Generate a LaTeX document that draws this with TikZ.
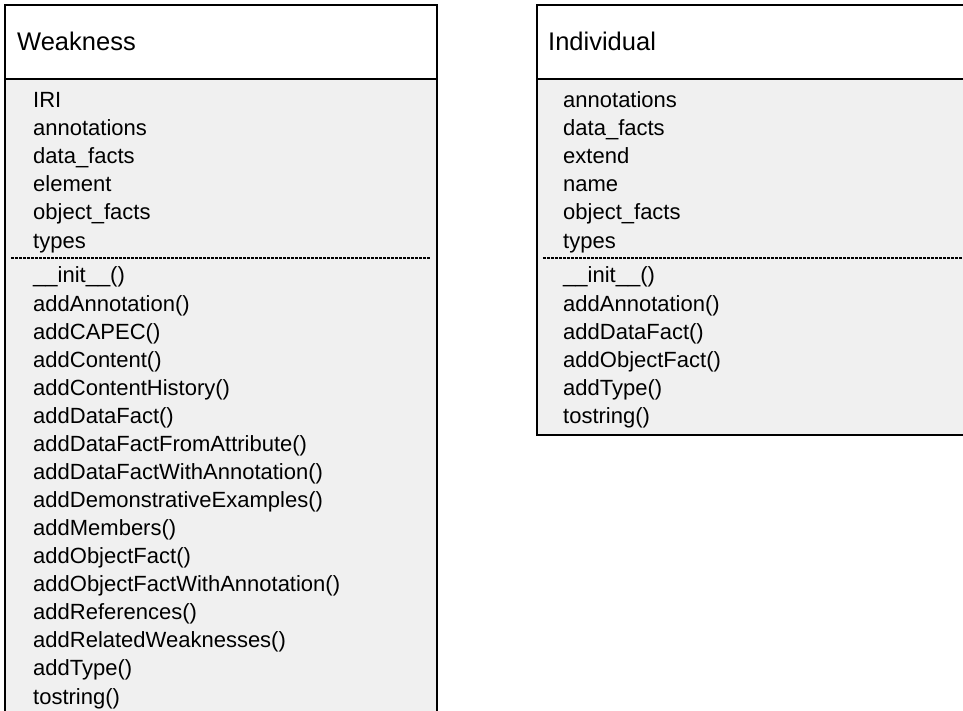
\documentclass[tikz,border=0pt]{standalone}
\usepackage{fontspec}
\setmainfont{Liberation Sans}

\definecolor{bodygray}{HTML}{F0F0F0}

\tikzset{
	classname/.style={anchor=base west, inner sep=0pt, font=\fontsize{25.5}{30}\selectfont},
	member/.style={anchor=base west, inner sep=0pt, font=\fontsize{22}{28}\selectfont},
	frame/.style={draw=black, line width=1.6pt},
	divider/.style={line width=1.3pt, dash pattern=on 3pt off 1pt}
}

\begin{document}
\begin{tikzpicture}[x=1pt, y=-1pt]
		\useasboundingbox (0,0) rectangle (963,711);
		\clip (0,0) rectangle (963,711);

		% Weakness
		\fill[bodygray] (5,79) rectangle (437,730);
		\fill[white] (5,5) rectangle (437,79);
		\draw[frame] (5,730) -- (5,5) -- (437,5) -- (437,730);
		\draw[frame] (5,79) -- (437,79);
		\draw[divider] (11,258) -- (431,258);
		\node[classname] (weak) at (17,51) {Weakness};
		\foreach \txt [count=\i] in {IRI, annotations, data\_facts, element, object\_facts, types}
			\node[member] (wa\i) at (33,107.5+28.1*\i-28.1) {\txt};
		\foreach \txt [count=\i] in {\_\_init\_\_(), addAnnotation(), addCAPEC(), addContent(),
			addContentHistory(), addDataFact(), addDataFactFromAttribute(),
			addDataFactWithAnnotation(), addDemonstrativeExamples(), addMembers(),
			addObjectFact(), addObjectFactWithAnnotation(), addReferences(),
			addRelatedWeaknesses(), addType(), tostring()}
			\node[member] (wm\i) at (33,283+28.07*\i-28.07) {\txt};

		% Individual
		\fill[bodygray] (537,79) rectangle (975,435);
		\fill[white] (537,5) rectangle (975,79);
		\draw[frame] (975,435) -- (537,435) -- (537,5) -- (975,5);
		\draw[frame] (537,79) -- (975,79);
		\draw[divider] (543,258) -- (975,258);
		\node[classname] (indiv) at (548,51) {Individual};
		\foreach \txt [count=\i] in {annotations, data\_facts, extend, name, object\_facts, types}
			\node[member] (ia\i) at (563,107.5+28.1*\i-28.1) {\txt};
		\foreach \txt [count=\i] in {\_\_init\_\_(), addAnnotation(), addDataFact(),
			addObjectFact(), addType(), tostring()}
			\node[member] (im\i) at (563,283+28.07*\i-28.07) {\txt};
\end{tikzpicture}
\end{document}
